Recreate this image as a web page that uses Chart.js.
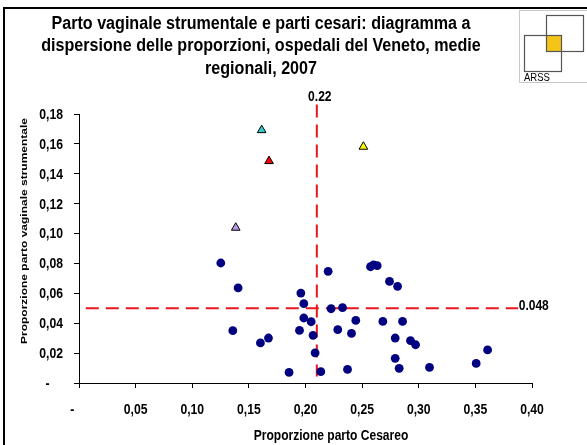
<!DOCTYPE html>
<html>
<head>
<meta charset="utf-8">
<script src="https://cdn.jsdelivr.net/npm/chart.js@4.4.0/dist/chart.umd.min.js"></script>
<style>
html, body { margin: 0; padding: 0; background: #fff; }
#wrap { width: 587px; height: 445px; }
</style>
</head>
<body>
<div id="wrap"><canvas id="grafico" width="587" height="445"></canvas></div>
<script>
// Dati: proporzione parti cesarei (x) e parto vaginale strumentale (y) per ospedale
const cesareoOspedali = [
    0.1252, 0.1405, 0.1358, 0.1602, 0.1673, 0.1855, 0.1959, 0.1985, 0.1985,
    0.2050, 0.1947, 0.2067, 0.2085, 0.2135, 0.2200, 0.2226, 0.2327, 0.2285,
    0.2444, 0.2406, 0.2371, 0.2574, 0.2601, 0.2633, 0.2742, 0.2813, 0.2683,
    0.2857, 0.2792, 0.2927, 0.2972, 0.2792, 0.2827, 0.3095, 0.3507, 0.3608
];
const strumentaleOspedali = [
    0.0803, 0.0636, 0.0350, 0.0268, 0.0301, 0.0071, 0.0602, 0.0531, 0.0435,
    0.0410, 0.0352, 0.0319, 0.0201, 0.0076, 0.0747, 0.0497, 0.0504, 0.0357,
    0.0419, 0.0332, 0.0091, 0.0778, 0.0790, 0.0785, 0.0680, 0.0647, 0.0412,
    0.0412, 0.0301, 0.0283, 0.0256, 0.0165, 0.0098, 0.0104, 0.0131, 0.0221
];

// Ospedali evidenziati (triangoli)
const cesareoEvidenziati = [0.1613, 0.1678, 0.1384, 0.2511];
const strumentaleEvidenziati = [0.1692, 0.1485, 0.1039, 0.1581];

// Medie regionali (linee tratteggiate) e relative etichette
const mediaCesareo = 0.21;
const mediaStrumentale = 0.05;
const etichettaMediaCesareo = '0.22';
const etichettaMediaStrumentale = '0.048';

// Etichette degli assi
const xTickLabels = ['-    ', '0,05', '0,10', '0,15', '0,20', '0,25', '0,30', '0,35', '0,40'];
const yTickLabels = ['-    ', '0,02', '0,04', '0,06', '0,08', '0,10', '0,12', '0,14', '0,16', '0,18'];

const titolo = [
    'Parto vaginale strumentale e parti cesari: diagramma a',
    'dispersione delle proporzioni, ospedali del Veneto, medie',
    'regionali, 2007'
];
const titoloX = 'Proporzione parto Cesareo';
const titoloY = 'Proporzione parto vaginale strumentale';

const FONT = "'Liberation Sans', Arial, sans-serif";
const ROSSO = '#e8171f';

// Testo compresso in orizzontale (il grafico originale e' schiacciato)
const testoStretto = (ctx, testo, x, y, align, sx) => {
    ctx.save();
    ctx.translate(x, y);
    ctx.scale(sx, 1);
    ctx.textAlign = align;
    ctx.fillText(testo, 0, 0);
    ctx.restore();
};

// Plugin: linee delle medie (dietro ai punti)
const lineeMedie = {
    id: 'lineeMedie',
    beforeDatasetsDraw(chart) {
        const { ctx, scales: { x, y } } = chart;
        ctx.save();
        ctx.strokeStyle = ROSSO;
        ctx.lineWidth = 2;
        ctx.setLineDash([13, 7]);
        // orizzontale
        const yy = y.getPixelForValue(mediaStrumentale);
        ctx.beginPath();
        ctx.moveTo(x.getPixelForValue(0.006), yy);
        ctx.lineTo(x.getPixelForValue(0.3878), yy);
        ctx.stroke();
        // verticale
        const xx = x.getPixelForValue(mediaCesareo);
        ctx.beginPath();
        ctx.moveTo(xx, y.getPixelForValue(0.1863));
        ctx.lineTo(xx, y.getPixelForValue(0.0044));
        ctx.stroke();
        ctx.restore();

        ctx.save();
        ctx.fillStyle = '#000';
        ctx.font = 'bold 14px ' + FONT;
        ctx.textBaseline = 'middle';
        testoStretto(ctx, etichettaMediaCesareo, xx + 3, y.getPixelForValue(0.1863) - 7, 'center', 0.86);
        testoStretto(ctx, etichettaMediaStrumentale, x.getPixelForValue(0.3878) + 0.5, yy - 2, 'left', 0.86);
        ctx.restore();
    }
};

// Plugin: cornice, titolo, logo, etichette e titoli degli assi
const decorazioni = {
    id: 'decorazioni',
    afterDraw(chart) {
        const { ctx, scales: { x, y } } = chart;
        ctx.save();
        // cornice
        ctx.fillStyle = '#000';
        ctx.fillRect(3, 7, 584, 2);
        ctx.fillRect(3, 7, 2, 438);

        // titolo
        ctx.font = 'bold 18px ' + FONT;
        ctx.textBaseline = 'alphabetic';
        titolo.forEach((riga, i) => testoStretto(ctx, riga, 261, 28.5 + i * 22.5, 'center', 0.895));

        // logo ARSS
        ctx.strokeStyle = '#c8c8c8';
        ctx.lineWidth = 1;
        ctx.strokeRect(519.5, 10.5, 80, 72);
        ctx.fillStyle = '#f4c518';
        ctx.fillRect(546, 35, 16, 16);
        ctx.strokeStyle = '#555';
        ctx.lineWidth = 1.2;
        ctx.strokeRect(546.5, 15.5, 37, 36);
        ctx.strokeRect(524.5, 35.5, 37, 36);
        ctx.fillStyle = '#000';
        ctx.font = '10px ' + FONT;
        testoStretto(ctx, 'ARSS', 524, 81, 'left', 0.95);

        // etichette dei tick
        ctx.font = 'bold 14px ' + FONT;
        ctx.textBaseline = 'middle';
        x.ticks.forEach((t, i) => {
            testoStretto(ctx, xTickLabels[i], x.getPixelForTick(i), 410, 'center', 0.87);
        });
        y.ticks.forEach((t, i) => {
            testoStretto(ctx, yTickLabels[i], 63, y.getPixelForTick(i) + 1, 'right', 0.87);
        });

        // titolo asse x
        testoStretto(ctx, titoloX, 331, 436, 'center', 0.86);

        // titolo asse y (ruotato, compresso in orizzontale)
        ctx.translate(24, 231);
        ctx.scale(0.83, 1);
        ctx.rotate(-Math.PI / 2);
        ctx.textAlign = 'center';
        ctx.font = 'bold 12px ' + FONT;
        ctx.fillText(titoloY, 0, 0);
        ctx.restore();
    }
};

const initGrafico = () => {
    const ctx = document.getElementById('grafico');
    if (!ctx) return;

    new Chart(ctx, {
        type: 'scatter',
        data: {
            datasets: [
                {
                    label: 'Ospedali evidenziati',
                    data: cesareoEvidenziati.map((v, i) => ({ x: v, y: strumentaleEvidenziati[i] })),
                    pointStyle: 'triangle',
                    pointRadius: 5,
                    pointBackgroundColor: ['#33cccc', '#ff0000', '#b89ae6', '#ffff00'],
                    pointBorderColor: '#000',
                    pointBorderWidth: 1,
                    order: 0
                },
                {
                    label: 'Ospedali',
                    data: cesareoOspedali.map((v, i) => ({ x: v, y: strumentaleOspedali[i] })),
                    pointStyle: 'circle',
                    pointRadius: 4.4,
                    pointBackgroundColor: '#000080',
                    pointBorderColor: '#000080',
                    pointBorderWidth: 0,
                    order: 1
                }
            ]
        },
        options: {
            responsive: false,
            animation: false,
            devicePixelRatio: 1,
            events: [],
            layout: { padding: { left: 0, top: 114, right: 55, bottom: 22 } },
            plugins: {
                legend: { display: false },
                title: { display: false },
                tooltip: { enabled: false }
            },
            scales: {
                x: {
                    type: 'linear',
                    min: 0,
                    max: 0.4,
                    afterFit: (s) => { s.height = 40; },
                    ticks: { stepSize: 0.05, autoSkip: false, display: false },
                    grid: { drawOnChartArea: false, drawTicks: true, tickLength: 5, color: '#000', lineWidth: 1 },
                    border: { color: '#000', width: 1 }
                },
                y: {
                    type: 'linear',
                    min: 0,
                    max: 0.18,
                    afterFit: (s) => { s.width = 79; },
                    ticks: { stepSize: 0.02, autoSkip: false, display: false },
                    grid: { drawOnChartArea: false, drawTicks: true, tickLength: 5, color: '#000', lineWidth: 1 },
                    border: { color: '#000', width: 1 }
                }
            }
        },
        plugins: [lineeMedie, decorazioni]
    });
};

document.addEventListener('DOMContentLoaded', () => {
    initGrafico();
});
</script>
</body>
</html>
